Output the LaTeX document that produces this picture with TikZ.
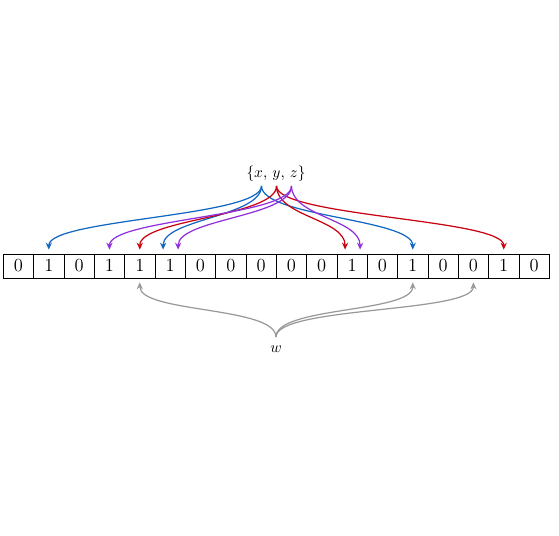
\documentclass[tikz,border=0pt]{standalone}
\usepackage{amsmath}
\usepackage{xcolor}
\usetikzlibrary{arrows.meta}
\definecolor{hashX}{HTML}{1166C2}
\definecolor{hashY}{HTML}{C80010}
\definecolor{hashZ}{HTML}{9030DD}
\definecolor{queryW}{HTML}{999999}

\begin{document}
\begin{tikzpicture}[x=0.65pt, y=0.65pt,
    bit/.style={draw, line width=0.5pt, inner sep=0pt, font=\large,
        minimum width=19.72pt, minimum height=15.6pt},
    hash/.style={line width=0.8pt, -{Stealth[length=4.5pt, width=4pt]},
        out=-90, in=90, out distance=20pt, in distance=20pt}]
    \useasboundingbox (0,0) rectangle (559,535);
    % the bit array
    \foreach \b [count=\i from 0] in {0,1,0,1,1,1,0,0,0,0,0,1,0,1,0,0,1,0}
        \node[bit] (c\i) at ({3.3+30.33*(\i+0.5)}, 269) {\(\b\)};
    % the set and the query
    \node (set) at (276, 361) {\(\{x,\,y,\,z\}\)};
    \node (w) at (276, 186) {\(w\)};
    \coordinate (ox) at (261.5, 349);
    \coordinate (oy) at (276.5, 349);
    \coordinate (oz) at (291.5, 349);
    \coordinate (ow) at (276, 198);
    % hash arrows
    \foreach \t/\s in {1/0, 5/-7, 13/0}
        \draw[hash, hashX] (ox) to ([xshift=\s*0.65pt, yshift=2.6pt]c\t.north);
    \foreach \t/\s in {4/0, 11/-7, 16/0}
        \draw[hash, hashY] (oy) to ([xshift=\s*0.65pt, yshift=2.6pt]c\t.north);
    \foreach \t/\s in {3/0, 5/8, 11/8}
        \draw[hash, hashZ] (oz) to ([xshift=\s*0.65pt, yshift=2.6pt]c\t.north);
    \foreach \t in {4, 13, 15}
        \draw[hash, queryW, out=90, in=-90] (ow) to ([yshift=-2.6pt]c\t.south);
\end{tikzpicture}
\end{document}
